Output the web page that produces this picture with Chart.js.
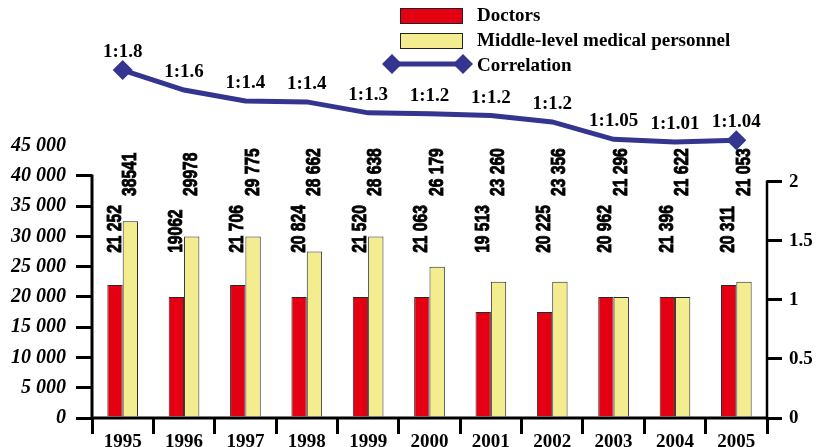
<!DOCTYPE html>
<html>
<head>
<meta charset="utf-8">
<script src="https://cdn.jsdelivr.net/npm/chart.js@4.4.1/dist/chart.umd.min.js"></script>
<style>
  html, body { margin: 0; padding: 0; background: #fff; }
  #wrap { width: 818px; height: 447px; }
</style>
</head>
<body>
<div id="wrap"><canvas id="chart"></canvas></div>
<script>
const years = ['1995', '1996', '1997', '1998', '1999', '2000', '2001', '2002', '2003', '2004', '2005'];

// bar heights as drawn on the left scale
const doctors = [22000, 20000, 22000, 20000, 20000, 20000, 17500, 17500, 20000, 20000, 22000];
const middle = [32500, 30000, 30000, 27500, 30000, 25000, 22500, 22500, 20000, 20000, 22500];

// printed values above the bars
const doctorLabels = ['21 252', '19062', '21 706', '20 824', '21 520', '21 063', '19 513', '20 225', '20 962', '21 396', '20 311'];
const middleLabels = ['38541', '29978', '29 775', '28 662', '28 638', '26 179', '23 260', '23 356', '21 296', '21 622', '21 053'];

// correlation line (as drawn) and its printed labels
const correlation = [1.8, 1.58, 1.46, 1.45, 1.33, 1.32, 1.30, 1.23, 1.04, 1.01, 1.03];
const correlationLabels = ['1:1.8', '1:1.6', '1:1.4', '1:1.4', '1:1.3', '1:1.2', '1:1.2', '1:1.2', '1:1.05', '1:1.01', '1:1.04'];

const leftTicks = [0, 5000, 10000, 15000, 20000, 25000, 30000, 35000, 40000, 45000];
const rightTicks = [0, 0.5, 1, 1.5, 2];

const RED = 'rgb(228,0,18)';
const YELLOW = 'rgb(243,237,143)';
const NAVY = 'rgb(52,52,145)';
const SERIF = '"Liberation Serif", "Times New Roman", serif';
const SANS = '"Liberation Sans", Arial, sans-serif';

function diamond(ctx, x, y, r) {
    ctx.beginPath();
    ctx.moveTo(x, y - r);
    ctx.lineTo(x + r, y);
    ctx.lineTo(x, y + r);
    ctx.lineTo(x - r, y);
    ctx.closePath();
    ctx.fill();
}

const valueLabels = {
    id: 'valueLabels',
    beforeDatasetsDraw(chart) {
        const ctx = chart.ctx;
        const y = chart.scales.y;
        ctx.save();
        ctx.fillStyle = '#000';
        ctx.strokeStyle = '#000';
        ctx.lineWidth = 0.9;
        ctx.font = 'bold 20px ' + SANS;
        ctx.textAlign = 'left';
        ctx.textBaseline = 'middle';
        const sets = [[0, doctorLabels, 27300], [1, middleLabels, 36700]];
        for (const [idx, texts, anchor] of sets) {
            const meta = chart.getDatasetMeta(idx);
            meta.data.forEach((bar, i) => {
                ctx.save();
                ctx.translate(bar.x, y.getPixelForValue(anchor));
                ctx.rotate(-Math.PI / 2);
                ctx.scale(0.78, 1);   // narrow face
                ctx.fillText(texts[i], 0, 0);
                ctx.strokeText(texts[i], 0, 0);
                ctx.restore();
            });
        }
        ctx.restore();
    },
    afterDatasetsDraw(chart) {
        const ctx = chart.ctx;
        const meta = chart.getDatasetMeta(2);
        ctx.save();
        ctx.fillStyle = '#000';
        ctx.font = 'bold 19px ' + SERIF;
        ctx.textAlign = 'center';
        ctx.textBaseline = 'alphabetic';
        meta.data.forEach((pt, i) => {
            ctx.fillText(correlationLabels[i], pt.x, pt.y - 13);
        });
        ctx.restore();
    }
};

const axesAndLegend = {
    id: 'axesAndLegend',
    afterDraw(chart) {
        const {ctx, chartArea: a, scales} = chart;
        ctx.save();
        ctx.strokeStyle = '#000';
        ctx.lineWidth = 3;
        ctx.beginPath();
        ctx.moveTo(a.left, scales.y.getPixelForValue(40000) - 1.5);
        ctx.lineTo(a.left, a.bottom + 1.5);
        ctx.moveTo(a.left, a.bottom);
        ctx.lineTo(a.right, a.bottom);
        ctx.stroke();
        ctx.lineWidth = 2.5;
        ctx.beginPath();
        ctx.moveTo(a.right, scales.yR.getPixelForValue(2) - 1.5);
        ctx.lineTo(a.right, a.bottom + 1.5);
        ctx.stroke();

        // legend
        const ds = chart.data.datasets;
        ctx.lineWidth = 1;
        ctx.strokeStyle = '#222';
        ctx.fillStyle = RED;
        ctx.fillRect(400, 8, 62, 15);
        ctx.strokeRect(400.5, 8.5, 62, 15);
        ctx.fillStyle = YELLOW;
        ctx.fillRect(400, 33, 62, 15);
        ctx.strokeRect(400.5, 33.5, 62, 15);
        ctx.strokeStyle = NAVY;
        ctx.lineWidth = 5;
        ctx.beginPath();
        ctx.moveTo(392, 64);
        ctx.lineTo(463, 64);
        ctx.stroke();
        ctx.fillStyle = NAVY;
        diamond(ctx, 392, 64, 10);
        diamond(ctx, 463, 64, 10);
        ctx.fillStyle = '#000';
        ctx.font = 'bold 19px ' + SERIF;
        ctx.textAlign = 'left';
        ctx.textBaseline = 'middle';
        ctx.fillText(ds[0].label, 477, 16);
        ctx.fillText(ds[1].label, 477, 41);
        ctx.fillText(ds[2].label, 477, 66);
        ctx.restore();
    }
};

new Chart(document.getElementById('chart'), {
    type: 'bar',
    data: {
        labels: years,
        datasets: [
            {
                label: 'Doctors',
                data: doctors,
                backgroundColor: RED,
                borderColor: '#2a2a2a',
                borderWidth: 1,
                categoryPercentage: 0.5,
                barPercentage: 1.0
            },
            {
                label: 'Middle-level medical personnel',
                data: middle,
                backgroundColor: YELLOW,
                borderColor: '#2a2a2a',
                borderWidth: 1,
                categoryPercentage: 0.5,
                barPercentage: 1.0
            },
            {
                type: 'line',
                label: 'Correlation',
                data: correlation,
                yAxisID: 'yC',
                borderColor: NAVY,
                backgroundColor: NAVY,
                borderWidth: 5,
                tension: 0,
                clip: false,
                pointStyle: 'rectRot',
                pointRadius: (c) => (c.dataIndex === 0 || c.dataIndex === correlation.length - 1) ? 10 : 0,
                pointBorderWidth: 0
            }
        ]
    },
    options: {
        responsive: true,
        maintainAspectRatio: false,
        animation: false,
        layout: {
            padding: {top: 30, left: 0, right: 0, bottom: 0}
        },
        plugins: {
            legend: {display: false},
            tooltip: {enabled: false}
        },
        scales: {
            x: {
                grid: {
                    offset: true,
                    drawOnChartArea: false,
                    drawTicks: true,
                    tickLength: 16,
                    lineWidth: 3,
                    color: '#000'
                },
                border: {display: false},
                ticks: {
                    color: '#000',
                    padding: -3,
                    maxRotation: 0,
                    font: {family: SERIF, size: 19, weight: 'bold'}
                },
                afterFit: (s) => { s.height = 29; }
            },
            y: {
                position: 'left',
                min: 0,
                max: 64132,
                afterBuildTicks: (s) => { s.ticks = leftTicks.map(v => ({value: v})); },
                grid: {
                    drawOnChartArea: false,
                    drawTicks: true,
                    tickLength: 16,
                    lineWidth: 3,
                    color: (c) => (c.tick && c.tick.value === 45000) ? 'rgba(0,0,0,0)' : '#000'
                },
                border: {display: false},
                ticks: {
                    color: '#000',
                    padding: 10,
                    font: {family: SERIF, size: 20, weight: 'bold', style: 'italic'},
                    callback: (v) => v === 0 ? '0' : (v / 1000) + ' 000'
                },
                afterFit: (s) => { s.width = 92; }
            },
            yR: {
                position: 'right',
                min: 0,
                max: 3.288,
                afterBuildTicks: (s) => { s.ticks = rightTicks.map(v => ({value: v})); },
                grid: {
                    drawOnChartArea: false,
                    drawTicks: true,
                    tickLength: 15,
                    lineWidth: 3,
                    color: '#000'
                },
                border: {display: false},
                ticks: {
                    color: '#000',
                    padding: 7,
                    font: {family: SERIF, size: 19, weight: 'bold'},
                    callback: (v) => String(v)
                },
                afterFit: (s) => { s.width = 51; }
            },
            yC: {
                display: false,
                min: -2.018,
                max: 2.239
            }
        }
    },
    plugins: [valueLabels, axesAndLegend]
});
</script>
</body>
</html>
